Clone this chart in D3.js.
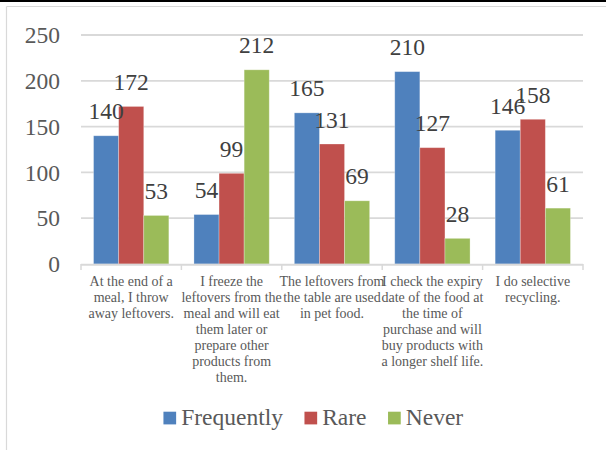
<!DOCTYPE html>
<html>
<head>
<meta charset="utf-8">
<script src="https://cdn.jsdelivr.net/npm/d3@7/dist/d3.min.js"></script>
<style>
  html, body { margin: 0; padding: 0; background: #fff; }
  svg { display: block; }
</style>
</head>
<body>
<svg id="chart" width="606" height="450"></svg>
<script>
// Survey answers about food leftovers, by statement and frequency
const categories = [
  "At the end of a meal, I throw away leftovers.",
  "I freeze the leftovers from the meal and will eat them later or prepare other products from them.",
  "The leftovers from the table are used in pet food.",
  "I check the expiry date of the food at the time of purchase and will buy products with a longer shelf life.",
  "I do selective recycling."
];
// Wrapped lines of each category label
const categoryLines = [
  ["At the end of a", "meal, I throw", "away leftovers."],
  ["I freeze the", "leftovers from the", "meal and will eat", "them later or", "prepare other", "products from", "them."],
  ["The leftovers from", "the table are used", "in pet food."],
  ["I check the expiry", "date of the food at", "the time of", "purchase and will", "buy products with", "a longer shelf life."],
  ["I do selective", "recycling."]
];
const seriesNames = ["Frequently", "Rare", "Never"];
const frequently = [140, 54, 165, 210, 146];
const rare = [172, 99, 131, 127, 158];
const never = [53, 212, 69, 28, 61];
const yTicks = [0, 50, 100, 150, 200, 250];
const colors = ["#4F81BD", "#C0504D", "#9BBB59"];

const FONT = "'Liberation Serif', 'Times New Roman', serif";
const seriesValues = [frequently, rare, never];
const svg = d3.select("#chart").style("font-family", FONT);

// Outer frame: dark top rule and light chart-area border
svg.append("rect").attr("x", 0).attr("y", 0).attr("width", 606).attr("height", 2).attr("fill", "#000");
svg.append("line").attr("x1", 6.5).attr("x2", 606).attr("y1", 6.5).attr("y2", 6.5)
  .attr("stroke", "#D9D9D9").attr("stroke-width", 1.2);
svg.append("line").attr("x1", 6.5).attr("x2", 6.5).attr("y1", 6.5).attr("y2", 450)
  .attr("stroke", "#D9D9D9").attr("stroke-width", 1.2);

const plot = { left: 81, right: 583, top: 35, bottom: 264 };

const x0 = d3.scaleBand().domain(d3.range(categories.length))
  .range([plot.left, plot.right]).paddingInner(0).paddingOuter(0);
const x1 = d3.scaleBand().domain(d3.range(seriesNames.length))
  .range([0, x0.bandwidth()]).paddingInner(0).paddingOuter(0.5);
const y = d3.scaleLinear().domain([0, 250]).range([plot.bottom, plot.top]);

// Gridlines
svg.append("g").selectAll("line").data(yTicks.filter(d => d > 0)).join("line")
  .attr("x1", plot.left).attr("x2", plot.right)
  .attr("y1", d => y(d)).attr("y2", d => y(d))
  .attr("stroke", "#D9D9D9").attr("stroke-width", 1.8);

// Y axis labels
const yAxis = d3.axisLeft(y).tickValues(yTicks).tickSize(0).tickPadding(0);
const gy = svg.append("g").attr("transform", `translate(60,0)`).call(yAxis);
gy.select(".domain").remove();
gy.attr("font-family", null).attr("font-size", null);
gy.selectAll("text")
  .style("font-family", FONT).style("font-size", "23.5px")
  .attr("fill", "#595959").attr("dy", "0.33em");

// Bars, with a faint light edge
const groups = svg.append("g").selectAll("g").data(categories).join("g")
  .attr("transform", (d, i) => `translate(${x0(i)},0)`);
groups.selectAll("rect")
  .data((d, i) => seriesValues.map((s, k) => ({ k, v: s[i] })))
  .join("rect")
  .attr("x", d => x1(d.k)).attr("width", x1.bandwidth())
  .attr("y", d => y(d.v)).attr("height", d => y(0) - y(d.v))
  .attr("fill", d => colors[d.k])
  .attr("stroke", "#ffffff").attr("stroke-opacity", 0.35).attr("stroke-width", 0.8);

// Value labels above each bar
groups.selectAll("text.val")
  .data((d, i) => seriesValues.map((s, k) => ({ k, v: s[i] })))
  .join("text").attr("class", "val")
  .attr("x", d => x1(d.k) + x1.bandwidth() / 2)
  .attr("y", d => y(d.v) - 16.5)
  .attr("text-anchor", "middle")
  .style("font-family", FONT).style("font-size", "23.5px")
  .attr("fill", "#404040")
  .text(d => d.v);

// Category axis with boundary ticks
svg.append("line").attr("x1", plot.left).attr("x2", plot.right)
  .attr("y1", plot.bottom + 0.75).attr("y2", plot.bottom + 0.75)
  .attr("stroke", "#D9D9D9").attr("stroke-width", 1.8);
const bounds = d3.range(categories.length + 1).map(i => plot.left + i * x0.step());
svg.append("g").selectAll("line").data(bounds).join("line")
  .attr("x1", d => d).attr("x2", d => d)
  .attr("y1", plot.bottom).attr("y2", plot.bottom + 6)
  .attr("stroke", "#D9D9D9").attr("stroke-width", 1.5);

const catLabels = svg.append("g").selectAll("text").data(categoryLines).join("text")
  .attr("text-anchor", "middle")
  .style("font-family", FONT).style("font-size", "14px")
  .attr("fill", "#595959")
  .attr("transform", (d, i) => `translate(${x0(i) + x0.bandwidth() / 2},285.5)`);
catLabels.selectAll("tspan").data(d => d).join("tspan")
  .attr("x", 0).attr("y", (d, j) => j * 16).text(d => d);

// Legend
const legend = svg.append("g");
const items = legend.selectAll("g").data(seriesNames).join("g");
items.append("rect").attr("width", 12.7).attr("height", 12.7).attr("y", 411.7)
  .attr("fill", (d, i) => colors[i]);
items.append("text").attr("x", 17.7).attr("y", 425)
  .style("font-family", FONT).style("font-size", "23.5px")
  .attr("fill", "#595959").text(d => d);
const widths = [];
items.each(function () {
  widths.push(this.querySelector("text").getComputedTextLength() + 17.7);
});
const gap = 21.5;
const total = d3.sum(widths) + gap * (widths.length - 1);
let start = 313.3 - total / 2;
items.attr("transform", (d, i) => {
  const t = `translate(${start},0)`;
  start += widths[i] + gap;
  return t;
});
</script>
</body>
</html>
